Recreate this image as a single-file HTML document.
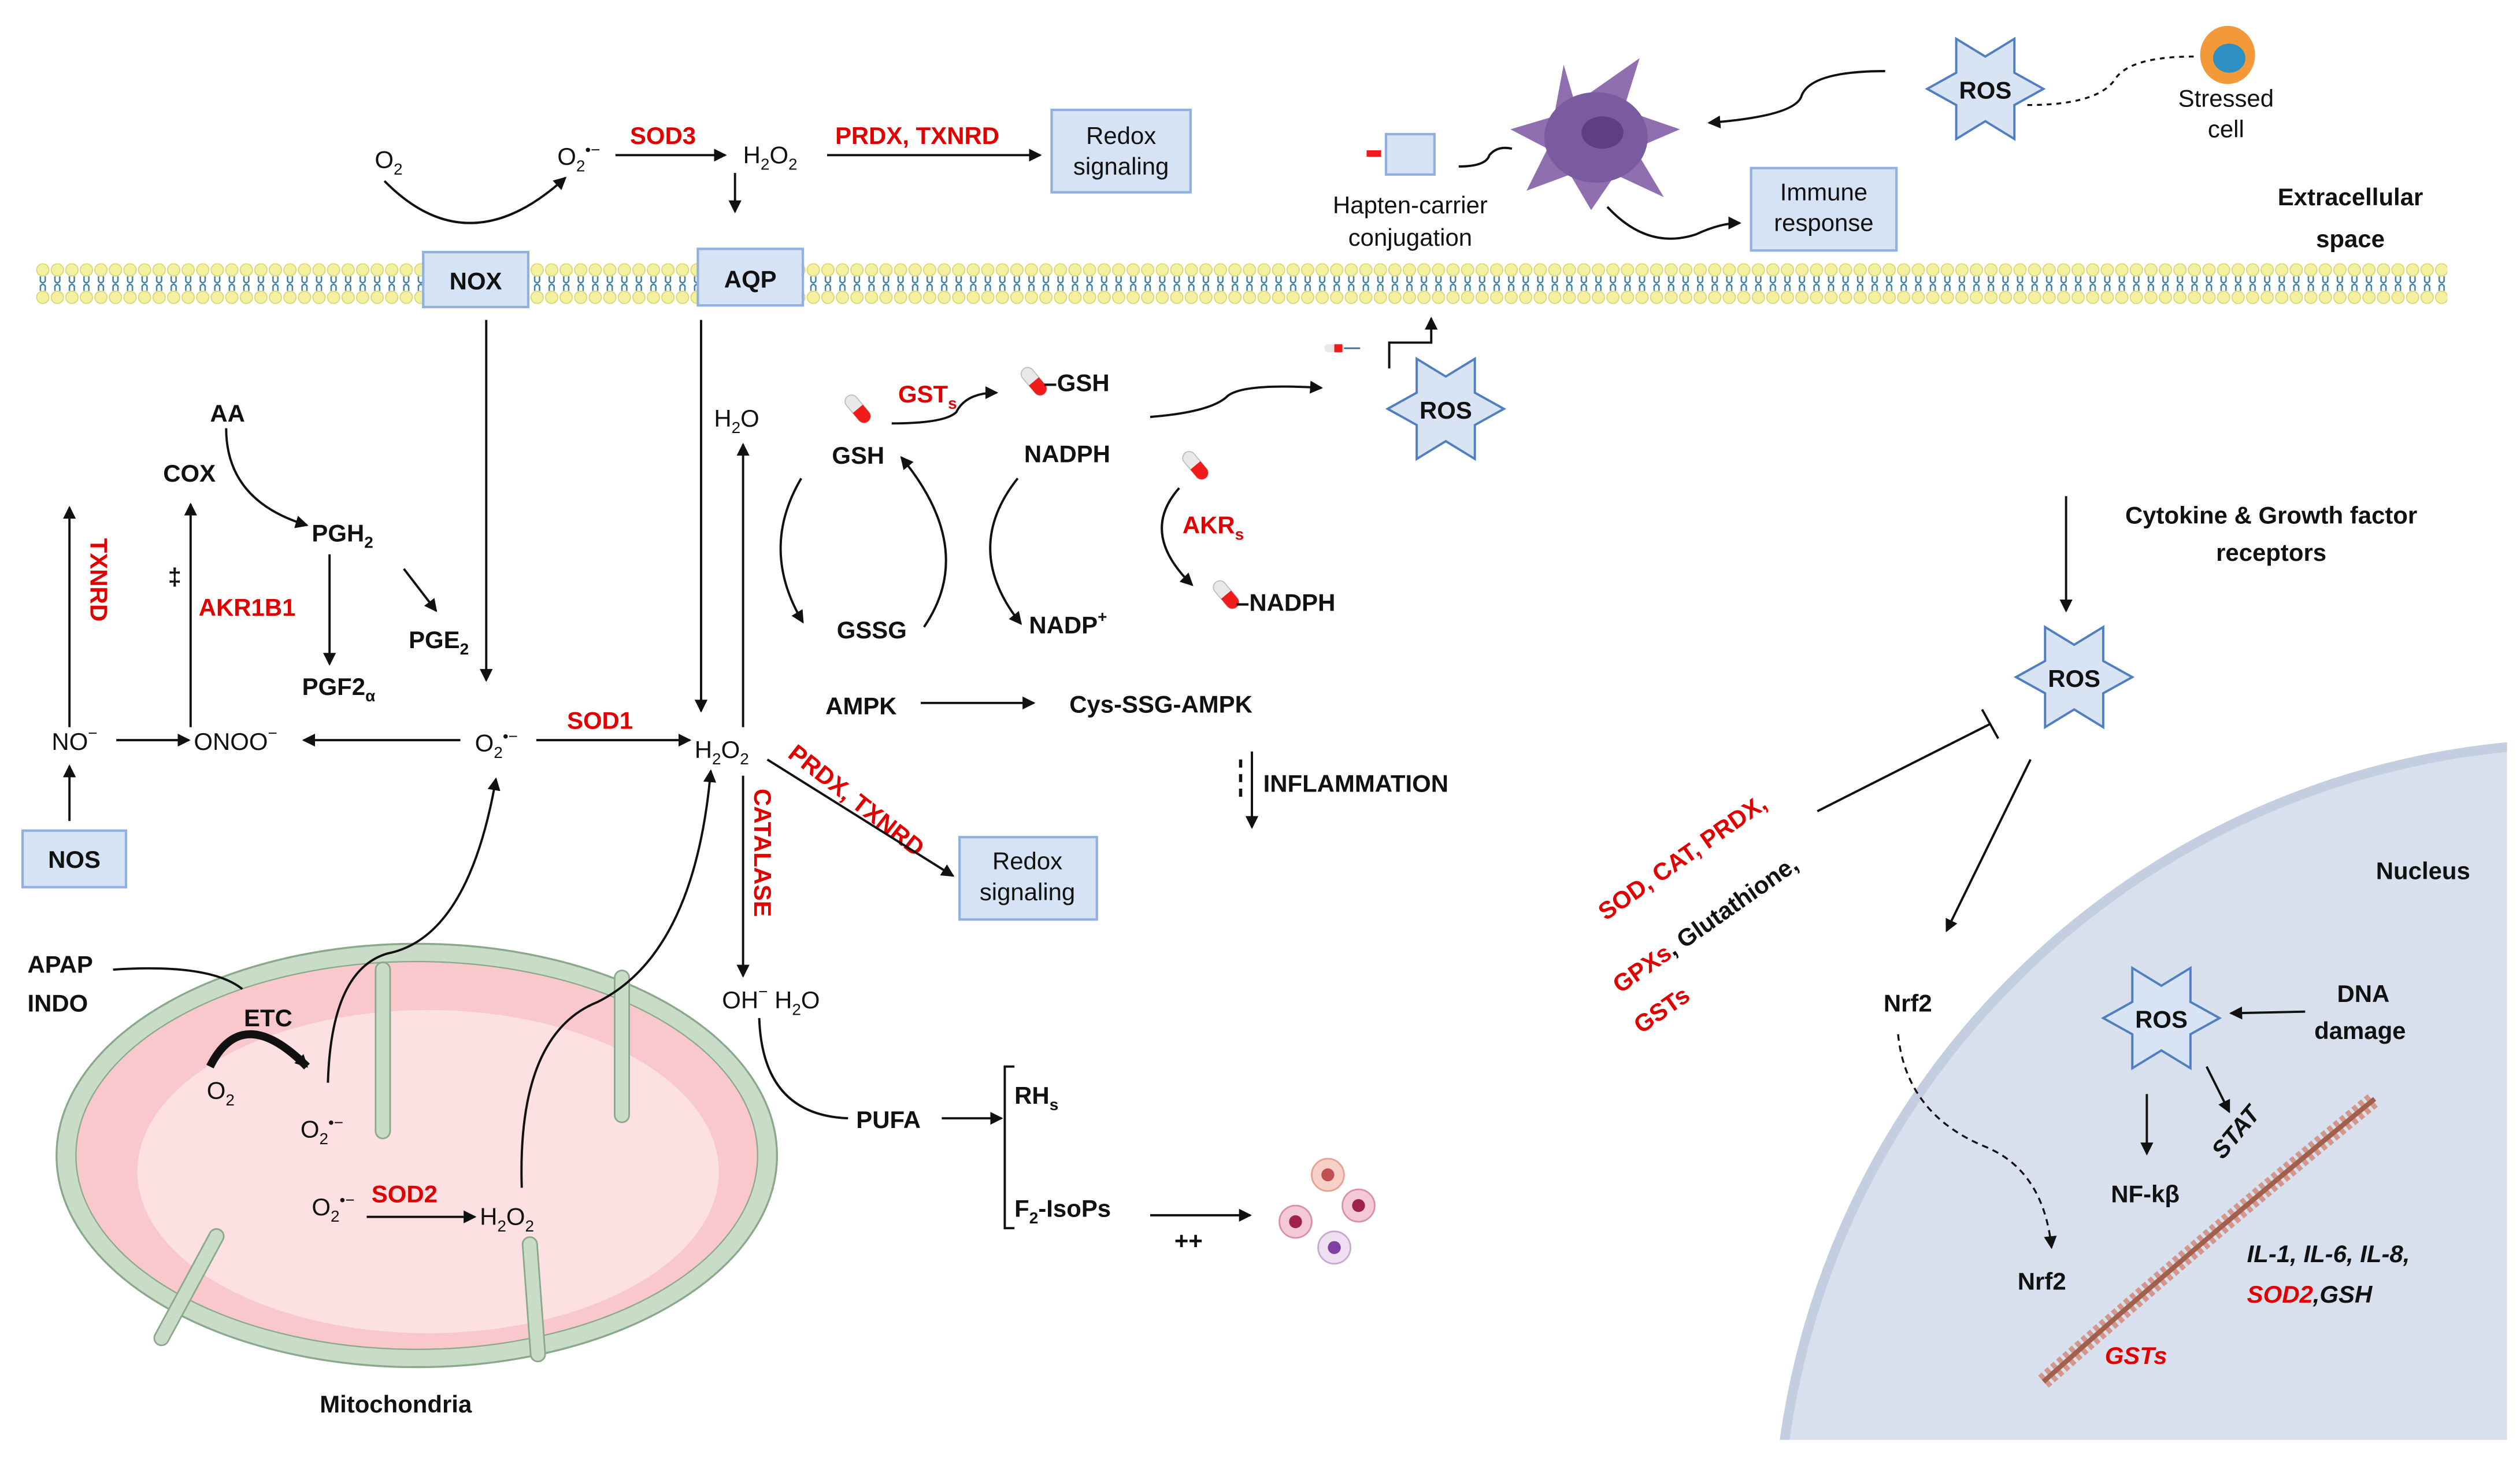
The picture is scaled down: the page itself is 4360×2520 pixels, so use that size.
<!DOCTYPE html>
<html><head><meta charset="utf-8"><style>
html,body{margin:0;padding:0;background:#fff;width:4360px;height:2520px;overflow:hidden}
svg{display:block}
text{font-family:"Liberation Sans Narrow","Liberation Sans",sans-serif;font-size:15px;fill:#111}
.b{font-weight:bold}
.r{fill:#e00000;font-weight:bold}
.s{font-size:10px}
.box{fill:#d6e3f5;stroke:#8eb1e0;stroke-width:1.5}
.ln{stroke:#111;stroke-width:1.4;fill:none}
.star{fill:#d8e4f4;stroke:#4f7fc0;stroke-width:1.4}
.cr{fill:none;stroke:#8aa88a;stroke-width:10;stroke-linecap:round}
.cr2{fill:none;stroke:#c8dcc8;stroke-width:8;stroke-linecap:round}
</style></head><body>
<svg width="4360" height="2520" viewBox="0 0 1560 901.6" preserveAspectRatio="none" xmlns="http://www.w3.org/2000/svg">
<defs>
<marker id="a" markerWidth="8" markerHeight="8" refX="7" refY="4" orient="auto" markerUnits="userSpaceOnUse"><path d="M0,0 L8,4 L0,8 z" fill="#111"/></marker>
<pattern id="mem" x="22" y="163" width="9" height="25" patternUnits="userSpaceOnUse">
<circle cx="4.5" cy="4" r="3.8" fill="#f3f0a0" stroke="#d8d36a" stroke-width="0.6"/>
<circle cx="4.5" cy="21" r="3.8" fill="#f3f0a0" stroke="#d8d36a" stroke-width="0.6"/>
<path d="M3,8 L3,11 Q4.5,13 6,11 L6,8 M3,17 L3,14 Q4.5,12 6,14 L6,17" stroke="#3d7fa3" stroke-width="0.9" fill="none"/>
</pattern>
<g id="star"><polygon class="star" points="-36,0 -18,-10 -18,-31 0,-20 18,-31 18,-10 36,0 18,10 18,31 0,20 -18,31 -18,10"/></g>
<g id="pill"><rect x="-4" y="-10" width="8" height="20" rx="4" fill="#e8e8e8" stroke="#bbb" stroke-width="0.6"/><path d="M-4,0 L4,0 L4,6 A4,4 0 0 1 -4,6 z" fill="#f01c1c"/></g>
</defs>

<!-- nucleus -->
<circle cx="1600" cy="960" r="500" fill="#d7e0ec" stroke="#c3cfe0" stroke-width="6"/>
<rect x="1552" y="0" width="10" height="902" fill="#fff"/>
<rect x="1090" y="891" width="470" height="12" fill="#fff"/>

<!-- membrane -->
<rect x="22" y="163" width="1493" height="25" fill="url(#mem)"/>
<rect class="box" x="262" y="156" width="65" height="34"/><text class="b" x="294.5" y="179" text-anchor="middle" font-size="16">NOX</text>
<rect class="box" x="432" y="154" width="65" height="35"/><text class="b" x="464.5" y="178" text-anchor="middle" font-size="16">AQP</text>

<!-- top -->
<text x="232" y="104">O<tspan class="s" dy="4">2</tspan></text>
<path class="ln" d="M238,112 Q290,165 350,110" marker-end="url(#a)"/>
<text x="345" y="102">O<tspan class="s" dy="4">2</tspan><tspan class="s" dy="-10">•−</tspan></text>
<text class="r" x="390" y="89">SOD3</text>
<line class="ln" x1="381" y1="96" x2="449" y2="96" marker-end="url(#a)"/>
<text x="460" y="101">H<tspan class="s" dy="4">2</tspan><tspan dy="-4">O</tspan><tspan class="s" dy="4">2</tspan></text>
<line class="ln" x1="455" y1="107" x2="455" y2="131" marker-end="url(#a)"/>
<text class="r" x="517" y="89">PRDX, TXNRD</text>
<line class="ln" x1="512" y1="96" x2="644" y2="96" marker-end="url(#a)"/>
<rect class="box" x="651" y="68" width="86" height="51"/><text x="694" y="89" text-anchor="middle" font-size="14">Redox</text><text x="694" y="108" text-anchor="middle" font-size="14">signaling</text>

<!-- hapten / dendritic -->
<rect class="box" x="858" y="83" width="30" height="25"/><rect x="846" y="93" width="9" height="4" fill="#f01c1c"/>
<text x="873" y="132" text-anchor="middle" font-size="14">Hapten-carrier</text><text x="873" y="152" text-anchor="middle" font-size="14">conjugation</text>
<path class="ln" d="M903,103 Q920,103 922,96 Q927,90 936,92" />
<polygon points="968,40 975,64 1015,36 1005,68 1040,80 1012,92 1030,122 1000,108 985,130 972,108 945,118 958,92 935,80 962,72" fill="#8f6fb0"/>
<ellipse cx="988" cy="85" rx="32" ry="28" fill="#7b5ba0"/><ellipse cx="992" cy="82" rx="13" ry="10" fill="#5f3f84"/>
<path class="ln" d="M1167,44 Q1120,44 1115,60 Q1110,72 1058,76" marker-end="url(#a)"/>
<path class="ln" d="M995,128 Q1020,155 1050,145 Q1065,138 1077,138" marker-end="url(#a)"/>
<rect class="box" x="1084" y="104" width="90" height="51"/><text x="1129" y="124" text-anchor="middle" font-size="14">Immune</text><text x="1129" y="143" text-anchor="middle" font-size="14">response</text>
<use href="#star" x="1229" y="55"/><text class="b" x="1229" y="61" text-anchor="middle">ROS</text>
<path d="M1255,65 Q1300,65 1310,48 Q1320,35 1358,35" stroke="#111" stroke-width="1.2" fill="none" stroke-dasharray="3,3"/>
<ellipse cx="1379" cy="34" rx="17" ry="18" fill="#f29a3a"/><ellipse cx="1380" cy="36" rx="10" ry="9" fill="#2d8fc2"/>
<text x="1378" y="66" text-anchor="middle" font-size="14">Stressed</text><text x="1378" y="85" text-anchor="middle" font-size="14">cell</text>
<text class="b" x="1455" y="127" text-anchor="middle" font-size="16">Extracellular</text><text class="b" x="1455" y="153" text-anchor="middle" font-size="16">space</text>

<!-- left vertical -->
<line class="ln" x1="301" y1="198" x2="301" y2="421" marker-end="url(#a)"/>
<line class="ln" x1="434" y1="198" x2="434" y2="440" marker-end="url(#a)"/>
<line class="ln" x1="460" y1="450" x2="460" y2="275" marker-end="url(#a)"/>
<text x="442" y="264">H<tspan class="s" dy="4">2</tspan><tspan dy="-4">O</tspan></text>

<text class="b" x="130" y="261">AA</text>
<text class="b" x="101" y="298">COX</text>
<path class="ln" d="M140,265 Q140,310 190,325" marker-end="url(#a)"/>
<text class="b" x="193" y="335">PGH<tspan class="s" dy="4">2</tspan></text>
<line class="ln" x1="250" y1="352" x2="270" y2="378" marker-end="url(#a)"/>
<text class="b" x="253" y="401">PGE<tspan class="s" dy="4">2</tspan></text>
<line class="ln" x1="204" y1="343" x2="204" y2="411" marker-end="url(#a)"/>
<text class="b" x="187" y="430">PGF2<tspan class="s" dy="4">α</tspan></text>
<text class="r" transform="translate(56,333) rotate(90)">TXNRD</text>
<line class="ln" x1="43" y1="450" x2="43" y2="314" marker-end="url(#a)"/>
<line class="ln" x1="118" y1="450" x2="118" y2="312" marker-end="url(#a)"/>
<text class="b" x="104" y="362">‡</text>
<text class="r" x="123" y="381">AKR1B1</text>

<text x="32" y="464">NO<tspan class="s" dy="-7">−</tspan></text>
<line class="ln" x1="72" y1="458" x2="117" y2="458" marker-end="url(#a)"/>
<text x="120" y="464">ONOO<tspan class="s" dy="-7">−</tspan></text>
<line class="ln" x1="285" y1="458" x2="188" y2="458" marker-end="url(#a)"/>
<text x="294" y="465">O<tspan class="s" dy="4">2</tspan><tspan class="s" dy="-10">•−</tspan></text>
<line class="ln" x1="332" y1="458" x2="427" y2="458" marker-end="url(#a)"/>
<text class="r" x="351" y="451">SOD1</text>
<text x="430" y="469">H<tspan class="s" dy="4">2</tspan><tspan dy="-4">O</tspan><tspan class="s" dy="4">2</tspan></text>
<line class="ln" x1="43" y1="508" x2="43" y2="474" marker-end="url(#a)"/>
<rect class="box" x="14" y="514" width="64" height="35"/><text class="b" x="46" y="537" text-anchor="middle">NOS</text>

<text class="r" transform="translate(487,468) rotate(38)">PRDX, TXNRD</text>
<line class="ln" x1="475" y1="470" x2="590" y2="542" marker-end="url(#a)"/>
<rect class="box" x="594" y="518" width="85" height="51"/><text x="636" y="538" text-anchor="middle" font-size="14">Redox</text><text x="636" y="557" text-anchor="middle" font-size="14">signaling</text>
<text class="r" transform="translate(467,488) rotate(90)">CATALASE</text>
<line class="ln" x1="460" y1="480" x2="460" y2="604" marker-end="url(#a)"/>
<text x="447" y="624">OH<tspan class="s" dy="-7">−</tspan><tspan dy="7"> H</tspan><tspan class="s" dy="4">2</tspan><tspan dy="-4">O</tspan></text>

<!-- GSH cycles -->
<use href="#pill" transform="translate(531,253) rotate(-40)"/>
<text class="r" x="556" y="249">GST<tspan class="s" dy="4">s</tspan></text>
<path class="ln" d="M552,262 Q585,262 592,255 Q598,243 617,243" marker-end="url(#a)"/>
<use href="#pill" transform="translate(640,236) rotate(-40)"/>
<text class="b" x="646" y="242">–GSH</text>
<text class="b" x="515" y="287">GSH</text>
<text class="b" x="518" y="395">GSSG</text>
<path class="ln" d="M496,296 Q470,340 497,385" marker-end="url(#a)"/>
<path class="ln" d="M572,388 Q605,340 558,283" marker-end="url(#a)"/>
<text class="b" x="634" y="286">NADPH</text>
<text class="b" x="637" y="392">NADP<tspan class="s" dy="-7">+</tspan></text>
<path class="ln" d="M630,296 Q595,340 632,386" marker-end="url(#a)"/>
<use href="#pill" transform="translate(740,288) rotate(-40)"/>
<text class="r" x="732" y="330">AKR<tspan class="s" dy="4">s</tspan></text>
<path class="ln" d="M730,302 Q705,330 738,362" marker-end="url(#a)"/>
<use href="#pill" transform="translate(759,368) rotate(-40)"/>
<text class="b" x="765" y="378">–NADPH</text>
<path class="ln" d="M712,258 Q750,255 760,245 Q770,237 818,240" marker-end="url(#a)" stroke-width="1.8"/>
<rect x="820" y="213" width="12" height="5" rx="2" fill="#e8e8e8"/><rect x="826" y="213" width="5" height="5" fill="#f01c1c"/><line x1="832" y1="215.5" x2="842" y2="215.5" stroke="#3d6fb0"/>
<path class="ln" d="M860,228 L860,212 L886,212 L886,197" marker-end="url(#a)"/>
<use href="#star" x="895" y="253"/><text class="b" x="895" y="259" text-anchor="middle">ROS</text>

<text class="b" x="511" y="442">AMPK</text>
<line class="ln" x1="570" y1="435" x2="640" y2="435" marker-end="url(#a)"/>
<text class="b" x="662" y="441">Cys-SSG-AMPK</text>
<line x1="768" y1="470" x2="768" y2="495" stroke="#111" stroke-width="2" stroke-dasharray="5,4"/>
<line class="ln" x1="775" y1="465" x2="775" y2="512" marker-end="url(#a)"/>
<text class="b" x="782" y="490">INFLAMMATION</text>

<path class="ln" d="M470,630 Q472,690 525,692"/>
<text class="b" x="530" y="698">PUFA</text>
<line class="ln" x1="583" y1="692" x2="620" y2="692" marker-end="url(#a)"/>
<path class="ln" d="M628,660 L622,660 L622,760 L628,760"/>
<text class="b" x="628" y="683">RH<tspan class="s" dy="4">s</tspan></text>
<text class="b" x="628" y="753">F<tspan class="s" dy="4">2</tspan><tspan dy="-4">-IsoPs</tspan></text>
<line class="ln" x1="712" y1="752" x2="774" y2="752" marker-end="url(#a)"/>
<text class="b" x="727" y="773">++</text>
<circle cx="822" cy="727" r="10" fill="#f7d0c8" stroke="#e8a090"/><circle cx="841" cy="746" r="10" fill="#f3c9d6" stroke="#d890a8"/><circle cx="802" cy="756" r="10" fill="#f3c9d6" stroke="#d890a8"/><circle cx="826" cy="772" r="10" fill="#eee0f0" stroke="#c8a8d0"/>
<circle cx="822" cy="727" r="4" fill="#c05050"/><circle cx="841" cy="746" r="4" fill="#a02050"/><circle cx="802" cy="756" r="4" fill="#a02050"/><circle cx="826" cy="772" r="4" fill="#8040a0"/>

<!-- mitochondria -->
<ellipse cx="258" cy="715" rx="223" ry="131" fill="#c8dcc8" stroke="#8aa88a" stroke-width="1.2"/>
<ellipse cx="258" cy="715" rx="211" ry="120" fill="#f8c8cc" stroke="#8aa88a" stroke-width="0.8"/>
<ellipse cx="265" cy="725" rx="180" ry="100" fill="#fde0e2"/>
<path class="cr" d="M237,600 L237,700 M385,605 L385,690 M333,838 L328,770 M100,828 L134,765"/>
<path class="cr2" d="M237,600 L237,700 M385,605 L385,690 M333,838 L328,770 M100,828 L134,765"/>
<text class="b" x="17" y="602">APAP</text><text class="b" x="17" y="626">INDO</text>
<path class="ln" d="M70,600 Q130,596 150,612"/>
<text class="b" x="151" y="635">ETC</text>
<path d="M130,660 Q150,620 190,660" stroke="#111" stroke-width="5" fill="none" marker-end="url(#a)"/>
<text x="128" y="680">O<tspan class="s" dy="4">2</tspan></text>
<text x="186" y="704">O<tspan class="s" dy="4">2</tspan><tspan class="s" dy="-10">•−</tspan></text>
<path class="ln" d="M203,670 Q205,600 240,590 Q290,580 307,482" marker-end="url(#a)"/>
<text x="193" y="752">O<tspan class="s" dy="4">2</tspan><tspan class="s" dy="-10">•−</tspan></text>
<text class="r" x="230" y="744">SOD2</text>
<line class="ln" x1="227" y1="753" x2="294" y2="753" marker-end="url(#a)"/>
<text x="297" y="758">H<tspan class="s" dy="4">2</tspan><tspan dy="-4">O</tspan><tspan class="s" dy="4">2</tspan></text>
<path class="ln" d="M323,735 Q320,640 370,620 Q430,590 440,477" marker-end="url(#a)"/>
<text class="b" x="245" y="874" text-anchor="middle" font-size="16">Mitochondria</text>

<!-- right side -->
<text class="b" x="1406" y="324" text-anchor="middle">Cytokine &amp; Growth factor</text>
<text class="b" x="1406" y="347" text-anchor="middle">receptors</text>
<line class="ln" x1="1279" y1="307" x2="1279" y2="378" marker-end="url(#a)"/>
<use href="#star" x="1284" y="419"/><text class="b" x="1284" y="425" text-anchor="middle">ROS</text>
<line class="ln" x1="1125" y1="502" x2="1232" y2="448"/><line class="ln" x1="1227" y1="439" x2="1237" y2="457"/>
<text class="r" transform="translate(994,570) rotate(-35)">SOD, CAT, PRDX,</text>
<text transform="translate(1003,615) rotate(-35)"><tspan class="r">GPXs</tspan><tspan class="b">, Glutathione,</tspan></text>
<text class="r" transform="translate(1016,640) rotate(-35)">GSTs</text>
<line class="ln" x1="1257" y1="470" x2="1205" y2="576" marker-end="url(#a)"/>
<text class="b" x="1500" y="544" text-anchor="middle" font-size="16">Nucleus</text>
<text class="b" x="1166" y="626">Nrf2</text>
<path d="M1175,640 Q1180,690 1230,710 Q1265,725 1270,772" stroke="#111" stroke-width="1.2" fill="none" stroke-dasharray="4,3" marker-end="url(#a)"/>
<text class="b" x="1249" y="798">Nrf2</text>
<use href="#star" x="1338" y="630"/><text class="b" x="1338" y="636" text-anchor="middle">ROS</text>
<text class="b" x="1463" y="620" text-anchor="middle">DNA</text><text class="b" x="1461" y="643" text-anchor="middle">damage</text>
<line class="ln" x1="1427" y1="626" x2="1381" y2="627" marker-end="url(#a)"/>
<line class="ln" x1="1329" y1="677" x2="1329" y2="714" marker-end="url(#a)"/>
<line class="ln" x1="1366" y1="660" x2="1380" y2="688" marker-end="url(#a)"/>
<text class="b" x="1328" y="744" text-anchor="middle">NF-kβ</text>
<text class="b" transform="translate(1376,718) rotate(-50)" font-style="italic">STAT</text>
<path d="M1265,855 Q1360,770 1470,680" stroke="#d4968a" stroke-width="10" fill="none" stroke-dasharray="3,2"/>
<path d="M1265,855 Q1360,770 1470,680" stroke="#a0604c" stroke-width="3" fill="none"/>
<text class="b" x="1391" y="781" font-style="italic">IL-1, IL-6, IL-8,</text>
<text class="b" x="1391" y="806" font-style="italic"><tspan fill="#e00000">SOD2</tspan>,GSH</text>
<text class="r" x="1303" y="844" font-style="italic">GSTs</text>
</svg>
</body></html>
